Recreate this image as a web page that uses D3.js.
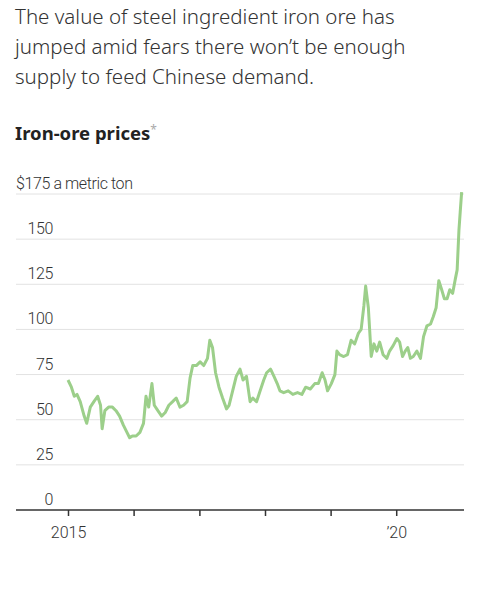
<!DOCTYPE html>
<html>
<head>
<meta charset="utf-8">
<script src="https://cdn.jsdelivr.net/npm/d3@7"></script>
<style>
  body { margin: 0; background: #fff; font-family: "Noto Sans", "Open Sans", sans-serif; }
</style>
</head>
<body>
<div class="chart"></div>
<script>
var dates = [
  "2015-01-01","2015-01-20","2015-02-05","2015-02-20","2015-03-10","2015-04-01","2015-04-15","2015-05-05","2015-05-25","2015-06-15","2015-07-01","2015-07-10","2015-07-25","2015-08-15","2015-09-05","2015-09-25","2015-10-15","2015-11-05","2015-11-25","2015-12-10","2015-12-25",
  "2016-01-15","2016-02-05","2016-02-25","2016-03-10","2016-03-25","2016-04-12","2016-04-25","2016-05-15","2016-06-05","2016-06-25","2016-07-15","2016-08-05","2016-08-25","2016-09-15","2016-10-05","2016-10-25","2016-11-10","2016-11-25","2016-12-15",
  "2017-01-05","2017-01-25","2017-02-15","2017-02-28","2017-03-15","2017-04-01","2017-04-20","2017-05-10","2017-06-01","2017-06-15","2017-07-05","2017-07-25","2017-08-15","2017-09-01","2017-09-20","2017-10-10","2017-10-25","2017-11-15","2017-12-05","2017-12-25",
  "2018-01-10","2018-02-01","2018-02-20","2018-03-10","2018-03-25","2018-04-15","2018-05-10","2018-06-05","2018-07-01","2018-07-25","2018-08-15","2018-09-10","2018-10-05","2018-10-25","2018-11-15","2018-12-01","2018-12-15",
  "2019-01-05","2019-01-25","2019-02-05","2019-02-20","2019-03-15","2019-04-05","2019-04-25","2019-05-15","2019-06-05","2019-06-20","2019-07-05","2019-07-15","2019-07-30","2019-08-15","2019-08-30","2019-09-15","2019-10-01","2019-10-20","2019-11-10","2019-11-25","2019-12-15",
  "2020-01-05","2020-01-20","2020-02-05","2020-02-20","2020-03-05","2020-03-20","2020-04-05","2020-04-25","2020-05-15","2020-06-01","2020-06-20","2020-07-10","2020-07-25","2020-08-10","2020-08-25","2020-09-10","2020-09-25","2020-10-10","2020-10-25","2020-11-10","2020-11-25","2020-12-05","2020-12-15","2020-12-22","2020-12-30"
];
var prices = [
  72, 68, 63, 64, 60, 52, 48, 57, 60, 63, 58, 45, 55, 57, 57, 55, 52, 47, 43, 40, 41,
  41, 43, 48, 63, 57, 70, 58, 55, 52, 54, 58, 60, 62, 57, 58, 60, 73, 80, 80,
  82, 80, 84, 94, 90, 76, 68, 62, 56, 58, 66, 74, 78, 72, 74, 60, 62, 60, 66, 72,
  76, 78, 74, 70, 66, 65, 66, 64, 65, 64, 68, 67, 70, 70, 76, 72, 66,
  70, 75, 88, 86, 85, 86, 94, 92, 98, 100, 113, 124, 112, 85, 92, 88, 93, 86, 84, 88, 91,
  95, 93, 85, 88, 90, 84, 85, 88, 84, 96, 102, 103, 107, 112, 127, 122, 117, 117, 122, 120, 128, 133, 155, 165, 176
];
var yTicks = [0, 25, 50, 75, 100, 125, 150, 175];

var parse = d3.timeParse("%Y-%m-%d");
var data = dates.map(function (d, i) { return { date: parse(d), value: prices[i] }; });

var svg = d3.select(".chart").append("svg")
  .attr("width", 488)
  .attr("height", 601);

var title = ["The value of steel ingredient iron ore has",
  "jumped amid fears there won\u2019t be enough",
  "supply to feed Chinese demand."];
svg.selectAll(".title").data(title).enter().append("text")
  .attr("x", 15)
  .attr("y", function (d, i) { return 24 + i * 30; })
  .attr("font-size", 20.5)
  .attr("font-weight", 300)
  .attr("fill", "#333")
  .text(function (d) { return d; });

var sub = svg.append("text").attr("x", 15).attr("y", 140)
  .attr("font-size", 18.5).attr("font-weight", 700).attr("fill", "#222");
sub.append("tspan").text("Iron-ore prices");
sub.append("tspan").attr("font-size", 12).attr("font-weight", 400).attr("fill", "#aaa").attr("dy", -6).text("*");

var left = 16, right = 464;
var labelFont = "Roboto, 'Noto Sans', sans-serif";
var xScale = d3.scaleTime()
  .domain([parse("2015-01-01"), parse("2021-01-01")])
  .range([68, 462]);
var yScale = d3.scaleLinear().domain([0, 175]).range([510, 194]);

svg.selectAll(".grid").data(yTicks.slice(1)).enter().append("line")
  .attr("x1", left).attr("x2", right)
  .attr("y1", function (d) { return yScale(d); })
  .attr("y2", function (d) { return yScale(d); })
  .attr("stroke", "#e2e2e2").attr("stroke-width", 1);

svg.selectAll(".ylab").data(yTicks).enter().append("text")
  .attr("x", function (d) { return d === 175 ? 16 : 53; })
  .attr("y", function (d) { return yScale(d) - 5; })
  .attr("text-anchor", function (d) { return d === 175 ? "start" : "end"; })
  .attr("font-size", 16).attr("font-weight", 300).attr("fill", "#333")
  .attr("letter-spacing", -0.4)
  .attr("font-family", labelFont)
  .text(function (d) { return d === 175 ? "$175 a metric ton" : d; });

var line = d3.line()
  .x(function (d) { return xScale(d.date); })
  .y(function (d) { return yScale(d.value); });

svg.append("path").datum(data)
  .attr("d", line)
  .attr("fill", "none")
  .attr("stroke", "#9ccf8a")
  .attr("stroke-width", 3)
  .attr("stroke-linejoin", "round");

var xAxis = d3.axisBottom(xScale)
  .ticks(d3.timeYear.every(1))
  .tickSize(6)
  .tickFormat(function (d) {
    var y = d.getFullYear();
    return y === 2015 ? "2015" : y === 2020 ? "\u201920" : "";
  });

var gx = svg.append("g")
  .attr("transform", "translate(0,510)")
  .call(xAxis);
gx.select(".domain").attr("d", "M" + left + ",0H" + right).attr("stroke", "#333").attr("stroke-width", 1.5);
gx.selectAll(".tick line").attr("stroke", "#333").attr("stroke-width", 1.5);
gx.selectAll(".tick").filter(function (d) { return d.getFullYear() > 2020; }).remove();
gx.selectAll(".tick text").attr("font-size", 16).attr("font-weight", 300).attr("fill", "#333").attr("dy", "1.2em")
  .attr("font-family", labelFont);
</script>
</body>
</html>
